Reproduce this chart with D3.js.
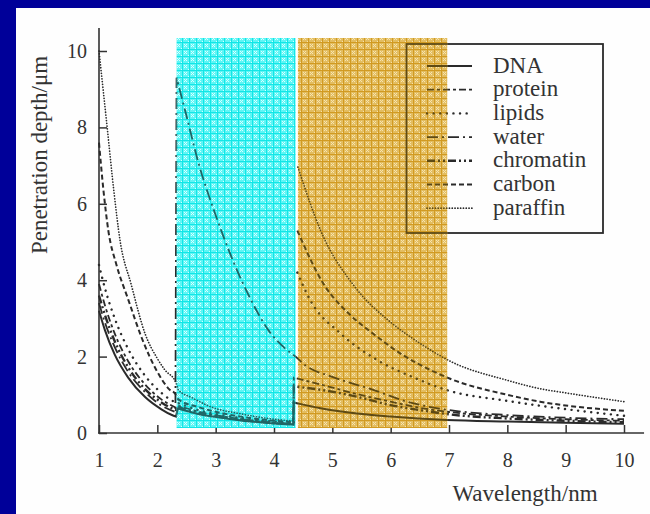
<!DOCTYPE html>
<html>
<head>
<meta charset="utf-8">
<script src="https://d3js.org/d3.v7.min.js"></script>
<style>
  body { margin:0; background:#000099; }
  svg text { font-family: "Liberation Serif", "DejaVu Serif", serif; fill:#333; }
</style>
</head>
<body>
<svg id="chart" width="650" height="514"></svg>
<script>

// legend order
var seriesNames = ["DNA", "protein", "lipids", "water", "chromatin", "carbon", "paraffin"];

// [wavelength nm, penetration depth um], split into runs at the absorption edges
var dnaDepth = [
  [[1.0,3.2],[1.1,2.7],[1.27,2.05],[1.5,1.45],[1.79,0.94],[2.07,0.62],[2.25,0.47],[2.32,0.43]],
  [[2.35,0.64],[2.7,0.5],[3.1,0.4],[3.6,0.3],[4.0,0.25],[4.33,0.22]],
  [[4.34,0.8],[4.8,0.65],[5.42,0.51],[6.0,0.43],[6.96,0.34],[8.0,0.3],[9.0,0.27],[10.0,0.24]]
];
var proteinDepth = [
  [[1.0,3.9],[1.1,3.35],[1.27,2.6],[1.5,1.88],[1.79,1.27],[2.07,0.88],[2.32,0.66]],
  [[2.35,0.72],[2.7,0.56],[3.1,0.44],[3.6,0.33],[4.0,0.27],[4.33,0.24]],
  [[4.34,1.45],[4.85,1.25],[5.42,1.02],[6.0,0.82],[6.5,0.66],[7.0,0.55],[8.0,0.43],[9.0,0.36],[10.0,0.32]]
];
var lipidsDepth = [
  [[1.0,4.4],[1.1,3.8],[1.27,3.0],[1.5,2.2],[1.79,1.5],[2.07,1.05],[2.32,0.8],[2.36,0.78],[2.7,0.6],[3.1,0.47],[3.6,0.36],[4.0,0.3],[4.36,0.26]],
  [[4.4,4.2],[4.62,3.48],[5.13,2.62],[5.77,1.91],[6.4,1.45],[6.97,1.12],[8.0,0.84],[9.13,0.6],[10.0,0.45]]
];
var waterDepth = [
  [[1.0,3.4],[1.1,2.9],[1.27,2.25],[1.5,1.6],[1.79,1.07],[2.07,0.72],[2.31,0.55]],
  [[2.33,9.3],[2.5,8.3],[2.7,7.1],[3.0,5.7],[3.3,4.5],[3.6,3.5],[3.9,2.7],[4.2,2.2],[4.37,2.0],[4.53,1.78],[5.0,1.47],[5.7,1.13],[6.28,0.82],[6.68,0.68],[7.0,0.6],[8.0,0.47],[9.0,0.4],[10.0,0.36]]
];
var chromatinDepth = [
  [[1.0,3.6],[1.1,3.1],[1.27,2.4],[1.5,1.72],[1.79,1.15],[2.07,0.8],[2.32,0.6]],
  [[2.35,0.68],[2.7,0.53],[3.1,0.42],[3.6,0.32],[4.0,0.26],[4.33,0.23]],
  [[4.34,1.22],[4.85,1.12],[5.42,0.95],[6.0,0.73],[6.5,0.6],[6.85,0.52],[7.0,0.49],[8.0,0.38],[9.0,0.32],[10.0,0.28]]
];
var carbonDepth = [
  [[1.0,7.6],[1.08,6.3],[1.16,5.3],[1.3,4.4],[1.5,3.5],[1.73,2.5],[2.0,1.6],[2.2,1.15],[2.32,1.0],[2.36,0.88],[2.7,0.68],[3.1,0.52],[3.6,0.39],[4.0,0.32],[4.36,0.28]],
  [[4.4,5.3],[4.85,3.9],[5.3,3.1],[5.7,2.6],[6.2,2.05],[6.68,1.65],[7.02,1.42],[8.0,1.0],[8.56,0.82],[9.0,0.72],[10.0,0.58]]
];
var paraffinDepth = [
  [[1.0,10.0],[1.07,9.0],[1.14,8.0],[1.25,6.4],[1.36,5.05],[1.55,3.9],[1.79,2.6],[2.0,1.95],[2.13,1.65],[2.32,1.32],[2.36,1.13],[2.6,0.92],[2.96,0.66],[3.37,0.52],[3.9,0.38],[4.36,0.31]],
  [[4.41,6.96],[4.8,5.3],[5.4,3.8],[6.0,2.9],[6.5,2.35],[7.02,1.88],[8.0,1.38],[8.56,1.16],[9.0,1.05],[10.0,0.82]]
];
var depthBySeries = [dnaDepth, proteinDepth, lipidsDepth, waterDepth, chromatinDepth, carbonDepth, paraffinDepth];
// runs joined by a vertical jump line
var joinedRuns = [true, true, false, true, true, false, false];

// shaded bands: water window and the band above the carbon edge
var bandStart = [2.33, 4.41];
var bandEnd = [4.37, 6.97];
var bandTop = 10.34, bandBottom = 0.13;

var xTicks = [1, 2, 3, 4, 5, 6, 7, 8, 9, 10];
var yTicks = [0, 2, 4, 6, 8, 10];

var dashes = ["none", "7,3,3,3", "0.1,6.5", "11,4,2,4", "8,3,2,3,2,3", "5,3", "0.1,2.7"];
var widths = [2, 1.8, 2.4, 1.8, 2.4, 2, 1.7];

var svg = d3.select("#chart");
svg.append("rect").attr("width", 650).attr("height", 514).attr("fill", "#000099");
svg.append("rect").attr("x", 16).attr("y", 8).attr("width", 634).attr("height", 506).attr("fill", "#fefefe");

var x = d3.scaleLinear().domain([1, 10]).range([99, 624]);
var y = d3.scaleLinear().domain([0, 10]).range([433, 51]);

var defs = svg.append("defs");
function makePattern(id, base, dot, grid) {
  var p = defs.append("pattern").attr("id", id)
    .attr("patternUnits", "userSpaceOnUse").attr("width", 7).attr("height", 7);
  p.append("rect").attr("width", 7).attr("height", 7).attr("fill", base);
  [[2,2],[4,4],[2,4],[4,2],[3,3],[6,6]].forEach(function(d) {
    p.append("rect").attr("x", d[0]).attr("y", d[1]).attr("width", 1).attr("height", 1).attr("fill", dot);
  });
  p.append("rect").attr("width", 7).attr("height", 1).attr("fill", grid);
  p.append("rect").attr("width", 1).attr("height", 7).attr("fill", grid);
}
makePattern("cyanPat", "#5ef5f5", "#d8ffff", "#12e6e6");
makePattern("orangePat", "#e3bd60", "#f6e3b0", "#d19a22");

for (var i = 0; i < 2; i++) {
  defs.append("clipPath").attr("id", "clip" + i).append("rect")
    .attr("x", x(bandStart[i])).attr("y", y(bandTop))
    .attr("width", x(bandEnd[i]) - x(bandStart[i]))
    .attr("height", y(bandBottom) - y(bandTop));
}

// axes
var axisG = svg.append("g").attr("stroke-linecap", "square");
axisG.append("line").attr("x1", x(1)).attr("x2", x(1)).attr("y1", y(0)).attr("y2", y(10.58))
  .attr("stroke", "#333").attr("stroke-width", 1.6);
axisG.append("line").attr("x1", x(1)).attr("x2", x(10.33)).attr("y1", y(0)).attr("y2", y(0))
  .attr("stroke", "#333").attr("stroke-width", 1.6);

var yAxis = d3.axisLeft(y).tickValues(yTicks).tickSizeInner(-8).tickSizeOuter(0).tickPadding(12);
var gy = svg.append("g").attr("transform", "translate(" + x(1) + ",0)").call(yAxis);
var xAxis = d3.axisBottom(x).tickValues(xTicks).tickSizeInner(-8).tickSizeOuter(0).tickPadding(20);
var gx = svg.append("g").attr("transform", "translate(0," + y(0) + ")").call(xAxis);
[gx, gy].forEach(function(g) {
  g.select(".domain").remove();
  g.selectAll(".tick line").attr("stroke", "#333").attr("stroke-width", 1.5);
  g.selectAll(".tick text").attr("fill", "#333").style("font-size", "20px")
    .style("font-family", "'Liberation Serif', serif");
});

svg.append("text").attr("transform", "translate(47,155) rotate(-90)")
  .attr("text-anchor", "middle").style("font-size", "23px").text("Penetration depth/\u03bcm");
svg.append("text").attr("x", 525).attr("y", 501)
  .attr("text-anchor", "middle").style("font-size", "23px").text("Wavelength/nm");

var line = d3.line().x(function(d) { return x(d[0]); }).y(function(d) { return y(d[1]); })
  .curve(d3.curveMonotoneX);

function seriesPath(runs, joined) {
  return runs.map(function(r, k) {
    var d = line(r);
    return (k && joined) ? d.replace(/^M/, "L") : d;
  }).join("");
}

var legendX = 427, legendRow0 = 66, legendStep = 23.7;

function drawInk(parent, color) {
  var g = parent.append("g").attr("fill", "none").attr("stroke", color);
  g.selectAll("path.curve").data(depthBySeries).join("path")
    .attr("class", "curve")
    .attr("d", function(d, k) { return seriesPath(d, joinedRuns[k]); })
    .attr("stroke-width", function(d, k) { return widths[k]; })
    .attr("stroke-dasharray", function(d, k) { return dashes[k]; })
    .attr("stroke-linecap", function(d, k) { return (k == 2 || k == 6) ? "round" : "butt"; });
  g.append("rect").attr("x", 406.5).attr("y", 44).attr("width", 196.5).attr("height", 189)
    .attr("stroke-width", 1.8);
  g.selectAll("line.key").data(seriesNames).join("line")
    .attr("class", "key")
    .attr("x1", legendX).attr("x2", legendX + 45)
    .attr("y1", function(d, k) { return legendRow0 + k * legendStep; })
    .attr("y2", function(d, k) { return legendRow0 + k * legendStep; })
    .attr("stroke-width", function(d, k) { return widths[k]; })
    .attr("stroke-dasharray", function(d, k) { return dashes[k]; })
    .attr("stroke-linecap", function(d, k) { return (k == 2 || k == 6) ? "round" : "butt"; });
  return g;
}

drawInk(svg, "#2a2a2a");

var bandFill = ["url(#cyanPat)", "url(#orangePat)"];
var bandInk = ["#1f6666", "#5e4a14"];
for (var b = 0; b < 2; b++) {
  svg.append("rect")
    .attr("x", x(bandStart[b])).attr("y", y(bandTop))
    .attr("width", x(bandEnd[b]) - x(bandStart[b]))
    .attr("height", y(bandBottom) - y(bandTop))
    .attr("fill", bandFill[b]);
  var clipped = svg.append("g").attr("clip-path", "url(#clip" + b + ")");
  drawInk(clipped, bandInk[b]);
}

svg.selectAll("text.keylabel").data(seriesNames).join("text")
  .attr("class", "keylabel")
  .attr("x", 493)
  .attr("y", function(d, k) { return legendRow0 + 6.5 + k * legendStep; })
  .style("font-size", "23px")
  .text(function(d) { return d; });

</script>
</body>
</html>
